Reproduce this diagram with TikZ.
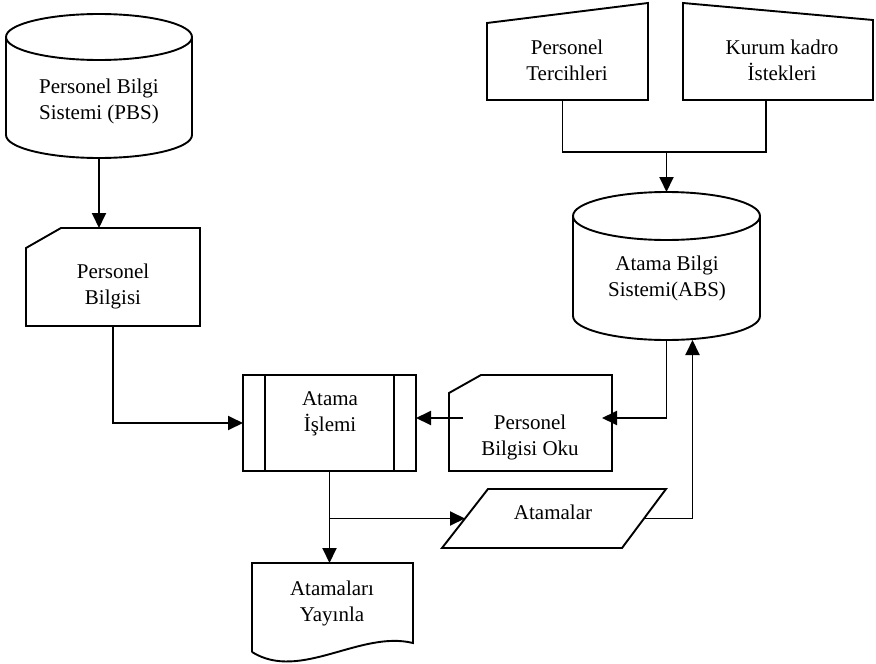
\documentclass[tikz,border=0pt]{standalone}
\usepackage{fontspec}
\setmainfont{Liberation Serif}
\usetikzlibrary{calc,arrows.meta}
\begin{document}
\begin{tikzpicture}[x=1pt,y=1pt,
  line width=1.9pt, line join=miter,
  arr/.style={-{Triangle[length=15pt,width=14pt]}},
  box/.style={inner sep=0pt, outer sep=0pt, draw=none},
  lbl/.style={align=center, inner sep=0pt, font=\fontsize{21}{26}\selectfont}]
\useasboundingbox (0,0) rectangle (876,-664);

% Personel Bilgi Sistemi (database)
\node[box, minimum width=186, minimum height=144] (pbs) at (99,-86) {};
\draw ($(pbs.north)+(0,-23)$) ellipse [x radius=93pt, y radius=23pt];
\draw ($(pbs.north west)+(0,-23)$) -- ($(pbs.south west)+(0,23)$)
  arc[start angle=180, end angle=360, x radius=93pt, y radius=23pt]
  -- ($(pbs.north east)+(0,-23)$);
\node[lbl] (pbst) at (99,-101) {Personel Bilgi\\Sistemi (PBS)};

% Personel Bilgisi (card)
\node[box, minimum width=174, minimum height=98] (pbi) at (113,-277) {};
\draw ($(pbi.north west)+(35,0)$) -- (pbi.north east) -- (pbi.south east)
  -- (pbi.south west) -- ($(pbi.north west)+(0,-20)$) -- cycle;
\node[lbl] (pbit) at (113,-286) {Personel\\Bilgisi};

% Atama Islemi (predefined process)
\node[box, minimum width=173, minimum height=96] (ai) at (329.5,-423) {};
\draw (ai.north west) rectangle (ai.south east);
\draw ($(ai.north west)+(22,0)$) -- ($(ai.south west)+(22,0)$);
\draw ($(ai.north east)+(-22,0)$) -- ($(ai.south east)+(-22,0)$);
\node[lbl] (ait) at (330,-414) {Atama\\İşlemi};

% Personel Bilgisi Oku (card)
\node[box, minimum width=163, minimum height=96] (pbo) at (530.5,-423) {};
\draw ($(pbo.north west)+(32,0)$) -- (pbo.north east) -- (pbo.south east)
  -- (pbo.south west) -- ($(pbo.north west)+(0,-18)$) -- cycle;
\node[lbl] (pbot) at (530,-437) {Personel\\Bilgisi Oku};

% Atama Bilgi Sistemi (database)
\node[box, minimum width=187, minimum height=148] (abs) at (666.5,-266) {};
\draw ($(abs.north)+(0,-24)$) ellipse [x radius=93.5pt, y radius=24pt];
\draw ($(abs.north west)+(0,-24)$) -- ($(abs.south west)+(0,24)$)
  arc[start angle=180, end angle=360, x radius=93.5pt, y radius=24pt]
  -- ($(abs.north east)+(0,-24)$);
\node[lbl] (abst) at (667,-278) {Atama Bilgi\\Sistemi(ABS)};

% Atamalar (data)
\node[box, minimum width=224, minimum height=59] (at) at (554,-518.5) {};
\draw ($(at.north west)+(46,0)$) -- (at.north east)
  -- ($(at.south east)+(-44,0)$) -- (at.south west) -- cycle;
\node[lbl] (att) at (553,-512) {Atamalar};

% Atamalari Yayinla (document)
\node[box, minimum width=161, minimum height=89] (ady) at (332.5,-607.5) {};
\draw (ady.south west) -- (ady.north west) -- (ady.north east)
  -- ($(ady.south east)+(0,9)$)
  .. controls ($(ady.south east)+(-53,22)$) and ($(ady.south west)+(48,-30)$) .. (ady.south west);
\node[lbl] (adyt) at (332,-603) {Atamaları\\Yayınla};

% Personel Tercihleri (manual input)
\node[box, minimum width=161, minimum height=97] (pt) at (567.5,-51.5) {};
\draw ($(pt.north west)+(0,-20)$) -- (pt.north east) -- (pt.south east)
  -- (pt.south west) -- cycle;
\node[lbl] (ptt) at (567,-60) {Personel\\Tercihleri};

% Kurum kadro Istekleri (manual input)
\node[box, minimum width=190, minimum height=97] (kk) at (778,-51.5) {};
\draw (kk.north west) -- ($(kk.north east)+(0,-17)$) -- (kk.south east)
  -- (kk.south west) -- cycle;
\node[lbl] (kkt) at (782,-60) {Kurum kadro\\İstekleri};

% connectors
\draw[arr] (pbs.south) -- (pbs.south |- pbi.north);
\draw[arr] (pbi.south) |- (ai.west);
\draw[arr] ($(pbo.west)+(14,5)$) -- ($(ai.east)+(0,5)$);
\draw[arr] (abs.south) |- ($(pbo.east)+(-10,5)$);
\draw[arr] (ai.south) -- (ai.south |- ady.north);
\draw[arr] (ai.south |- at.center) -- ($(at.west)+(23,0)$);
\draw[arr] ($(at.east)+(-22,0)$) -| ($(abs.south)+(26,0)$);
\coordinate (mrg) at ($(abs.north)+(0,40)$);
\draw ($(pt.south)+(-5,0)$) |- (mrg) -| ($(kk.south)+(-12,0)$);
\draw[arr] (mrg) -- (abs.north);
\end{tikzpicture}
\end{document}
